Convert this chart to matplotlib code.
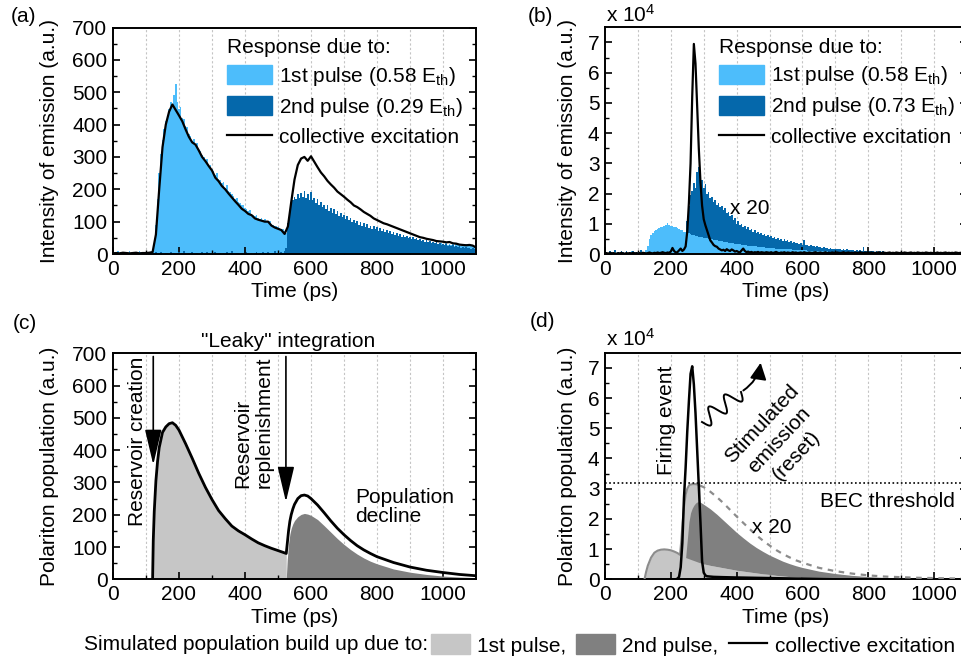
import numpy as np
import matplotlib
matplotlib.use('Agg')
import matplotlib.pyplot as plt
from matplotlib.patches import Patch, FancyArrowPatch
from matplotlib.lines import Line2D

plt.rcParams['font.family'] = ['Liberation Sans', 'DejaVu Sans']
plt.rcParams['mathtext.fontset'] = 'custom'
plt.rcParams['mathtext.rm'] = 'Liberation Sans'
plt.rcParams['mathtext.it'] = 'Liberation Sans:italic'
plt.rcParams['font.size'] = 15

LIGHT_BLUE = '#4dbdfb'
DARK_BLUE = '#0568ab'
LIGHT_GRAY = '#c6c6c6'
DARK_GRAY = '#808080'
OUTLINE_GRAY = '#8c8c8c'

# ---------------- (a) measured emission, 5 ps bins ----------------
t5 = np.arange(0, 1101, 5)
a_pulse1 = [
    3, 6, 2, 8, 4, 3, 7, 2, 5, 4, 9, 3, 2, 6, 4, 3, 8, 5, 2, 4,
    6, 3, 5, 4, 8, 30, 90, 170, 250, 310, 352, 385, 412, 430, 448, 470, 462, 492, 525, 470,
    448, 455, 420, 418, 396, 392, 372, 366, 350, 354, 336, 342, 322, 318, 306, 300, 288, 294, 272, 276,
    262, 256, 244, 250, 232, 228, 218, 224, 205, 212, 195, 192, 186, 178, 170, 174, 160, 158, 150, 152,
    142, 138, 132, 136, 125, 122, 118, 121, 112, 108, 111, 104, 107, 100, 98, 103, 92, 90, 88, 86,
    84, 80, 78, 76, 70, 66, 62, 64, 60, 61, 58, 60, 57, 58, 55, 57, 54, 56, 53, 55,
    52, 54, 51, 53, 50, 52, 49, 51, 48, 50, 47, 49, 47, 48, 46, 47, 45, 47, 44, 46,
    44, 45, 43, 45, 42, 44, 42, 43, 41, 43, 40, 42, 40, 41, 39, 41, 38, 40, 38, 39,
    37, 39, 37, 38, 36, 38, 36, 37, 35, 37, 35, 36, 34, 36, 34, 35, 33, 35, 33, 34,
    33, 34, 32, 36, 31, 34, 32, 37, 30, 33, 31, 36, 30, 33, 29, 35, 30, 32, 28, 34,
    31, 28, 33, 27, 30, 29, 32, 26, 30, 28, 31, 25, 29, 27, 30, 24, 28, 26, 29, 23,
    25]
a_pulse2 = [
    1, 0, 3, 0, 2, 5, 0, 1, 4, 0, 2, 0, 6, 1, 0, 3, 0, 2, 5, 0,
    1, 4, 0, 2, 0, 3, 7, 0, 2, 5, 1, 0, 4, 2, 0, 6, 1, 3, 0, 2,
    5, 0, 2, 8, 1, 0, 3, 2, 6, 0, 1, 4, 0, 2, 5, 1, 0, 7, 2, 0,
    3, 1, 6, 0, 2, 4, 0, 3, 1, 5, 0, 2, 8, 1, 0, 3, 2, 0, 4, 1,
    0, 6, 2, 1, 4, 0, 3, 7, 1, 2, 0, 5, 2, 1, 6, 0, 3, 2, 8, 1,
    3, 2, 6, 4, 8, 20, 95, 135, 155, 168, 176, 170, 184, 172, 190, 176, 196, 174, 186, 166,
    192, 168, 174, 158, 170, 150, 162, 146, 152, 140, 150, 134, 142, 128, 138, 124, 132, 118, 128, 114,
    122, 108, 116, 104, 112, 98, 106, 96, 102, 90, 98, 88, 95, 84, 92, 80, 88, 78, 85, 76,
    82, 72, 80, 70, 76, 68, 73, 64, 70, 62, 67, 58, 64, 57, 61, 54, 59, 52, 56, 50,
    54, 47, 51, 45, 48, 43, 46, 40, 44, 38, 42, 36, 40, 35, 38, 33, 36, 31, 34, 29,
    32, 27, 30, 26, 28, 24, 27, 23, 25, 21, 24, 20, 22, 19, 21, 17, 20, 16, 18, 15,
    16]
t10 = np.arange(0, 1101, 10)
a_collective = [
    2, 3, 2, 4, 3, 2, 3, 4, 2, 3,
    3, 4, 6, 60, 200, 330, 400, 440, 462, 445,
    428, 410, 385, 362, 345, 338, 320, 300, 287, 272,
    258, 236, 225, 210, 200, 187, 175, 163, 152, 140,
    133, 124, 120, 110, 106, 103, 100, 100, 88, 82,
    78, 74, 62, 85, 160, 230, 275, 295, 300, 288,
    302, 285, 268, 252, 240, 226, 215, 205, 193, 185,
    177, 168, 160, 150, 145, 138, 130, 124, 118, 110,
    105, 100, 95, 92, 88, 84, 80, 76, 72, 68,
    64, 60, 56, 52, 50, 47, 45, 43, 40, 39,
    38, 36, 37, 33, 32, 29, 28, 27, 28, 26,
    20]

# ---------------- (b) measured emission (x 1e4), 5 ps bins ----------------
b_pulse1 = [
    0.03, 0.05, 0.02, 0.06, 0.04, 0.03, 0.07, 0.02, 0.05, 0.04, 0.08, 0.03, 0.02, 0.06, 0.04, 0.05, 0.09, 0.05, 0.03, 0.04,
    0.06, 0.04, 0.07, 0.05, 0.08, 0.12, 0.25, 0.5, 0.62, 0.7, 0.76, 0.8, 0.84, 0.86, 0.9, 0.88, 0.94, 0.96, 1.02, 0.95,
    0.93, 0.94, 0.9, 0.88, 0.85, 0.82, 0.8, 0.78, 0.74, 0.73, 0.7, 0.68, 0.66, 0.64, 0.62, 0.6, 0.58, 0.57, 0.56, 0.55,
    0.54, 0.52, 0.52, 0.5, 0.49, 0.48, 0.47, 0.46, 0.45, 0.44, 0.43, 0.42, 0.41, 0.4, 0.39, 0.38, 0.37, 0.36, 0.35, 0.34,
    0.33, 0.33, 0.32, 0.31, 0.3, 0.3, 0.29, 0.28, 0.27, 0.27, 0.26, 0.25, 0.25, 0.24, 0.23, 0.23, 0.22, 0.22, 0.21, 0.21,
    0.2, 0.2, 0.19, 0.19, 0.18, 0.18, 0.17, 0.17, 0.17, 0.16, 0.16, 0.15, 0.15, 0.15, 0.14, 0.14, 0.14, 0.13, 0.13, 0.13,
    0.12, 0.12, 0.12, 0.11, 0.11, 0.11, 0.11, 0.1, 0.1, 0.1, 0.1, 0.09, 0.09, 0.09, 0.09, 0.09, 0.08, 0.08, 0.08, 0.08,
    0.08, 0.07, 0.07, 0.07, 0.07, 0.07, 0.07, 0.06, 0.06, 0.06, 0.06, 0.06, 0.06, 0.06, 0.06, 0.05, 0.05, 0.05, 0.05, 0.05,
    0.05, 0.06, 0.04, 0.05, 0.05, 0.04, 0.06, 0.05, 0.04, 0.05, 0.04, 0.05, 0.04, 0.06, 0.04, 0.04, 0.05, 0.04, 0.04, 0.05,
    0.04, 0.04, 0.05, 0.03, 0.04, 0.04, 0.05, 0.03, 0.04, 0.04, 0.03, 0.05, 0.04, 0.03, 0.04, 0.04, 0.03, 0.04, 0.03, 0.04,
    0.03, 0.04, 0.03, 0.03, 0.04, 0.03, 0.03, 0.04, 0.03, 0.03, 0.03, 0.04, 0.03, 0.03, 0.03, 0.04, 0.03, 0.03, 0.03, 0.03,
    0.03]
b_pulse2 = [
    0.04, 0.08, 0.02, 0.1, 0.05, 0.03, 0.12, 0.04, 0.06, 0.02, 0.09, 0.05, 0.03, 0.11, 0.04, 0.07, 0.02, 0.1, 0.05, 0.03,
    0.08, 0.04, 0.12, 0.03, 0.06, 0.1, 0.04, 0.08, 0.05, 0.12, 0.06, 0.09, 0.04, 0.11, 0.07, 0.05, 0.1, 0.06, 0.08, 0.12,
    0.1, 0.06, 0.12, 0.08, 0.15, 0.1, 0.18, 0.14, 0.25, 0.5, 1.1, 1.6, 1.95, 2.1, 2.35, 2.2, 2.7, 2.88, 2.55, 2.45,
    2.2, 2.3, 2.0, 2.05, 1.85, 1.9, 1.72, 1.8, 1.62, 1.7, 1.55, 1.6, 1.45, 1.52, 1.35, 1.4, 1.25, 1.3, 1.12, 1.18,
    1.0, 1.08, 0.95, 1.0, 0.88, 0.93, 0.82, 0.88, 0.78, 0.82, 0.72, 0.78, 0.7, 0.74, 0.66, 0.7, 0.62, 0.67, 0.6, 0.63,
    0.57, 0.6, 0.54, 0.57, 0.5, 0.54, 0.47, 0.5, 0.44, 0.48, 0.42, 0.45, 0.4, 0.42, 0.37, 0.4, 0.35, 0.37, 0.33, 0.36,
    0.31, 0.45, 0.29, 0.3, 0.27, 0.29, 0.25, 0.27, 0.23, 0.25, 0.22, 0.24, 0.2, 0.22, 0.19, 0.21, 0.18, 0.2, 0.17, 0.18,
    0.16, 0.18, 0.15, 0.17, 0.14, 0.16, 0.13, 0.15, 0.12, 0.14, 0.12, 0.13, 0.11, 0.13, 0.1, 0.12, 0.1, 0.22, 0.1, 0.11,
    0.09, 0.11, 0.09, 0.1, 0.08, 0.1, 0.08, 0.09, 0.07, 0.09, 0.07, 0.08, 0.07, 0.08, 0.06, 0.08, 0.06, 0.07, 0.06, 0.07,
    0.06, 0.07, 0.05, 0.07, 0.05, 0.06, 0.05, 0.06, 0.05, 0.06, 0.04, 0.06, 0.04, 0.05, 0.04, 0.05, 0.04, 0.05, 0.04, 0.05,
    0.04, 0.05, 0.03, 0.05, 0.03, 0.04, 0.03, 0.04, 0.03, 0.04, 0.03, 0.04, 0.03, 0.04, 0.03, 0.04, 0.03, 0.04, 0.03, 0.04,
    0.03]
b_collective = [
    0.02, 0.03, 0.01, 0.04, 0.02, 0.03, 0.02, 0.01, 0.03, 0.02, 0.04, 0.02, 0.01, 0.03, 0.02, 0.03, 0.02, 0.04, 0.02, 0.03,
    0.02, 0.03, 0.02, 0.04, 0.03, 0.02, 0.03, 0.05, 0.03, 0.02, 0.04, 0.03, 0.05, 0.03, 0.04, 0.06, 0.04, 0.03, 0.05, 0.04,
    0.08, 0.2, 0.1, 0.05, 0.06, 0.12, 0.18, 0.1, 0.15, 0.25, 0.75, 1.7, 3.0, 5.2, 6.95, 6.3, 4.9, 3.5, 2.4, 1.6,
    1.15, 0.95, 0.78, 0.6, 0.45, 0.38, 0.3, 0.26, 0.24, 0.18, 0.15, 0.12, 0.14, 0.1, 0.16, 0.12, 0.1, 0.15, 0.12, 0.08,
    0.1, 0.07, 0.05, 0.12, 0.18, 0.1, 0.06, 0.08, 0.05, 0.07, 0.04, 0.06, 0.05, 0.07, 0.04, 0.06, 0.05, 0.04, 0.06, 0.05,
    0.04, 0.06, 0.03, 0.05, 0.07, 0.04, 0.03, 0.05, 0.04, 0.06, 0.03, 0.05, 0.04, 0.03, 0.06, 0.04, 0.05, 0.03, 0.04, 0.05,
    0.03, 0.06, 0.04, 0.03, 0.05, 0.04, 0.03, 0.05, 0.06, 0.03, 0.04, 0.05, 0.03, 0.04, 0.06, 0.03, 0.04, 0.03, 0.05, 0.04,
    0.03, 0.05, 0.04, 0.03, 0.04, 0.06, 0.03, 0.04, 0.05, 0.03, 0.04, 0.03, 0.05, 0.04, 0.03, 0.06, 0.04, 0.03, 0.05, 0.04,
    0.03, 0.04, 0.05, 0.03, 0.04, 0.03, 0.06, 0.04, 0.03, 0.05, 0.04, 0.03, 0.04, 0.05, 0.03, 0.04, 0.03, 0.05, 0.04, 0.03,
    0.04, 0.03, 0.05, 0.04, 0.03, 0.04, 0.05, 0.03, 0.04, 0.03, 0.05, 0.04, 0.03, 0.04, 0.03, 0.05, 0.04, 0.03, 0.04, 0.03,
    0.04, 0.03, 0.05, 0.03, 0.04, 0.03, 0.04, 0.05, 0.03, 0.04, 0.03, 0.04, 0.03, 0.05, 0.04, 0.03, 0.04, 0.03, 0.04, 0.03,
    0.03]

# ---------------- (c) simulated population ----------------
c_t1 = [120, 122, 125, 130, 135, 140, 150, 160, 170, 180, 190, 200, 220, 240, 260, 280, 300,
        320, 340, 360, 380, 400, 420, 440, 460, 480, 500, 525]
c_pop1 = [0, 120, 210, 305, 365, 408, 455, 472, 482, 485, 477, 462, 420, 375, 328, 285, 247,
          213, 188, 165, 150, 138, 125, 113, 104, 96, 89, 80]
c_t2 = [525, 528, 532, 536, 540, 545, 550, 560, 570, 580, 590, 600, 620, 640, 660, 680, 700,
        720, 740, 760, 780, 800, 850, 900, 950, 1000, 1050, 1100]
c_pop2 = [0, 60, 110, 140, 158, 172, 182, 194, 201, 204, 202, 198, 185, 166, 146, 126, 108,
          92, 78, 66, 56, 48, 32, 22, 15, 10, 7, 5]
c_total2 = [80, 110, 150, 180, 200, 218, 232, 250, 259, 261, 258, 250, 230, 206, 181, 158, 138,
            120, 104, 91, 80, 70, 52, 38, 28, 21, 15, 11]

# ---------------- (d) simulated population (x 1e4) ----------------
d_t1 = [120, 125, 130, 140, 150, 160, 170, 180, 190, 200, 210, 220, 228, 232, 236, 240, 245,
        250, 256, 265, 275, 285, 289]
d_pop1 = [0, 0.25, 0.45, 0.72, 0.88, 0.95, 0.98, 0.99, 0.98, 0.96, 0.92, 0.87, 0.81, 1.3, 1.9,
          2.4, 2.8, 3.0, 3.12, 3.15, 3.15, 3.13, 3.1]
d_t2 = [245, 250, 255, 260, 265, 270, 275, 280, 285, 290, 300, 320, 340, 360, 380, 400, 420,
        440, 460, 480, 500, 520, 540, 560, 580, 600, 650, 700, 750, 800, 850, 900, 950, 1000,
        1050, 1100]
d_band = [0.72, 0.7, 0.68, 0.66, 0.64, 0.62, 0.6, 0.58, 0.56, 0.54, 0.51, 0.46, 0.42, 0.38,
          0.34, 0.3, 0.27, 0.24, 0.21, 0.18, 0.16, 0.13, 0.11, 0.09, 0.08, 0.06, 0.04, 0.03,
          0.02, 0.01, 0.01, 0, 0, 0, 0, 0]
d_pop2 = [0.72, 1.3, 1.9, 2.2, 2.35, 2.45, 2.52, 2.56, 2.57, 2.55, 2.48, 2.33, 2.15, 1.95,
          1.75, 1.55, 1.37, 1.2, 1.05, 0.92, 0.8, 0.7, 0.6, 0.52, 0.45, 0.39, 0.27, 0.19, 0.13,
          0.09, 0.06, 0.04, 0.03, 0.02, 0.015, 0.01]
d_t3 = [289, 300, 320, 340, 360, 380, 400, 420, 440, 460, 480, 500, 520, 540, 560, 580, 600,
        650, 700, 750, 800, 850, 900, 950, 1000, 1050, 1100]
d_nofire = [3.1, 3.05, 2.9, 2.72, 2.52, 2.3, 2.08, 1.87, 1.66, 1.46, 1.28, 1.12, 0.97, 0.84,
            0.73, 0.63, 0.55, 0.38, 0.27, 0.19, 0.13, 0.09, 0.07, 0.05, 0.04, 0.03, 0.02]
d_t4 = [200, 215, 220, 225, 230, 235, 240, 245, 250, 255, 260, 265, 270, 275, 280, 285, 290,
        295, 300, 305, 310, 330, 360, 400, 450, 500, 550, 600, 650, 700]
d_collective = [0, 0, 0.02, 0.08, 0.4, 1.2, 2.7, 3.7, 4.9, 5.9, 6.8, 7.05, 6.45, 5.5, 4.3, 3.1,
                1.9, 0.6, 0.22, 0.13, 0.1, 0.08, 0.07, 0.06, 0.05, 0.04, 0.03, 0.02, 0.01, 0]
bec_threshold = 3.18

W, H = 962, 663
fig = plt.figure(figsize=(W / 100, H / 100), dpi=100)


def px_box(left, top, right, bottom):
    return [left / W, 1 - bottom / H, (right - left) / W, (bottom - top) / H]


def px(x, y):
    return x / W, 1 - y / H


def style_axes(ax, ymax, ymaj, ymin, left_panel):
    ax.set_xlim(0, 1100)
    ax.set_ylim(0, ymax)
    ax.set_xticks(np.arange(0, 1001, 200))
    ax.set_xticks(np.arange(100, 1100, 200), minor=True)
    ax.set_yticks(np.arange(0, ymax + 1e-9, ymaj))
    ax.set_yticks(np.arange(ymin, ymax, ymaj), minor=True)
    if ymaj == 1:
        ax.set_yticklabels([str(int(v)) for v in np.arange(0, ymax + 1e-9, ymaj)])
    for x in range(100, 1100, 100):
        ax.axvline(x, color='#c4c4c4', lw=0.8, ls=(0, (2, 2)), zorder=0)
    ax.tick_params(which='both', direction='in', right=True, top=False, labelsize=15)
    ax.tick_params(which='major', length=5, width=1.2, pad=4)
    ax.tick_params(which='minor', length=3, width=1.0)
    for s in ax.spines.values():
        s.set_linewidth(1.4)
    ax.set_xlabel('Time (ps)')
    ax.xaxis.set_label_coords(0.5, -0.125)
    ax.yaxis.set_label_coords(-0.148 if left_panel else -0.078, 0.5)


# ---- (a)
ax_a = fig.add_axes(px_box(113, 27.5, 476, 254))
ax_a.fill_between(t5, 0, a_pulse1, step='mid', color=LIGHT_BLUE, lw=0, zorder=1)
ax_a.fill_between(t5, 0, a_pulse2, step='mid', color=DARK_BLUE, lw=0, zorder=2)
ax_a.plot(t10, a_collective, color='black', lw=1.6, zorder=3)
style_axes(ax_a, 700, 100, 50, True)
ax_a.set_ylabel('Intensity of emission (a.u.)')

# ---- (b)
ax_b = fig.add_axes(px_box(605, 27.3, 967, 254))
ax_b.fill_between(t5, 0, b_pulse2, step='mid', color=DARK_BLUE, lw=0, zorder=1)
ax_b.fill_between(t5, 0, b_pulse1, step='mid', color=LIGHT_BLUE, lw=0, zorder=2)
ax_b.plot(t5, b_collective, color='black', lw=1.6, zorder=3)
style_axes(ax_b, 7.5, 1, 0.5, False)
ax_b.set_ylabel('Intensity of emission (a.u.)')
ax_b.text(380, 1.5, 'x 20', va='center', ha='left')

for ax, e2 in ((ax_a, '0.29'), (ax_b, '0.73')):
    handles = [Patch(color=LIGHT_BLUE), Patch(color=DARK_BLUE), Line2D([], [], color='black', lw=1.6)]
    labels = [r'1st pulse (0.58 E$_{\mathrm{th}}$)', '2nd pulse (%s E$_{\\mathrm{th}}$)' % e2,
              'collective excitation']
    ax.legend(handles, labels, title='Response due to:', title_fontsize=15, fontsize=15,
              loc='upper left', bbox_to_anchor=(0.315, 0.955), frameon=False, alignment='left',
              handlelength=2.15, handleheight=1.05, handletextpad=0.35, labelspacing=0.38,
              borderpad=0, borderaxespad=0)

# ---- (c)
ax_c = fig.add_axes(px_box(113, 353.3, 476, 579.3))
ax_c.fill_between(c_t1, 0, c_pop1, color=LIGHT_GRAY, lw=0, zorder=1)
ax_c.fill_between(c_t2, 0, c_pop2, color=DARK_GRAY, lw=0, zorder=2)
ax_c.plot(c_t1 + c_t2, c_pop1 + c_total2, color='black', lw=2.0, zorder=3)
style_axes(ax_c, 700, 100, 50, True)
ax_c.set_ylabel('Polariton population (a.u.)')
arrow_kw = dict(arrowstyle='-|>,head_length=1.1,head_width=0.26', color='black', lw=1.2,
                mutation_scale=20, shrinkA=0, shrinkB=0)
ax_c.annotate('', xy=(122, 355), xytext=(122, 690), arrowprops=arrow_kw)
ax_c.annotate('', xy=(524, 240), xytext=(524, 690), arrowprops=arrow_kw)
ax_c.text(74, 426, 'Reservoir creation', rotation=90, ha='center', va='center')
ax_c.text(426, 487, 'Reservoir\nreplenishment', rotation=90, ha='center', va='center',
          multialignment='left', linespacing=1.15)
ax_c.text(531, 736, '"Leaky" integration', ha='center', va='center')
ax_c.text(733, 224, 'Population\ndecline', ha='left', va='center', linespacing=1.05)

# ---- (d)
ax_d = fig.add_axes(px_box(605, 352.7, 967, 579.3))
ax_d.fill_between(d_t1, 0, d_pop1, color=LIGHT_GRAY, lw=0, zorder=1)
ax_d.fill_between(d_t2, 0, d_band, color=LIGHT_GRAY, lw=0, zorder=1)
ax_d.fill_between(d_t2, d_band, d_pop2, color=DARK_GRAY, lw=0, zorder=2)
ax_d.plot(d_t1, d_pop1, color=OUTLINE_GRAY, lw=1.5, zorder=3)
ax_d.plot(d_t3, d_nofire, color=OUTLINE_GRAY, lw=1.6, ls=(0, (2.5, 2.5)), zorder=3)
ax_d.plot(d_t4, d_collective, color='black', lw=1.8, zorder=4)
ax_d.axhline(bec_threshold, color='black', lw=1.2, ls=(0, (1, 1.5)), zorder=4)
style_axes(ax_d, 7.5, 1, 0.5, False)
ax_d.set_ylabel('Polariton population (a.u.)')
ax_d.text(187, 5.26, 'Firing event', rotation=90, ha='center', va='center')
ax_d.text(530, 4.62, 'Stimulated\nemission\n(reset)', rotation=47, ha='center', va='center',
          multialignment='center', linespacing=1.3)
ax_d.text(859, 2.57, 'BEC threshold', ha='center', va='center')
ax_d.text(446, 1.72, 'x 20', ha='left', va='center')

# wavy "photon" arrow (decoration, drawn in figure pixels)
p0 = np.array([702.0, 422.0])
p1 = np.array([741.0, 392.0])
s = np.linspace(0, 1, 200)
d = p1 - p0
n = np.array([-d[1], d[0]]) / np.hypot(*d)
wave = p0[None, :] + s[:, None] * d[None, :] + (8.0 * np.sin(2 * np.pi * 2.5 * s))[:, None] * n[None, :]
fig.add_artist(Line2D(wave[:, 0] / W, 1 - wave[:, 1] / H, color='black', lw=1.4))
fig.add_artist(FancyArrowPatch(
    px(741, 392), px(761, 360), transform=fig.transFigure, connectionstyle='arc3,rad=0.25',
    arrowstyle='-|>,head_length=0.5,head_width=0.25', mutation_scale=20, color='black', lw=1.4))

# panel labels and multipliers
fig.text(*px(11, 16), '(a)', va='center', ha='left')
fig.text(*px(528, 16), '(b)', va='center', ha='left')
fig.text(*px(13, 323), '(c)', va='center', ha='left')
fig.text(*px(530, 321), '(d)', va='center', ha='left')
fig.text(*px(606, 22), r'x 10$^4$', va='baseline', ha='left')
fig.text(*px(606, 346), r'x 10$^4$', va='baseline', ha='left')

# bottom legend
fig.text(*px(84, 645), 'Simulated population build up due to:', va='center', ha='left')
fig.legend([Patch(color=LIGHT_GRAY), Patch(color=DARK_GRAY), Line2D([], [], color='black', lw=1.6)],
           ['1st pulse,', '2nd pulse,', 'collective excitation'], ncol=3, fontsize=15,
           loc='center left', bbox_to_anchor=px(431, 645), frameon=False,
           handlelength=1.85, handleheight=1.1, handletextpad=0.35, columnspacing=0.5,
           borderpad=0, borderaxespad=0)

fig.savefig('out.png', dpi=100)
